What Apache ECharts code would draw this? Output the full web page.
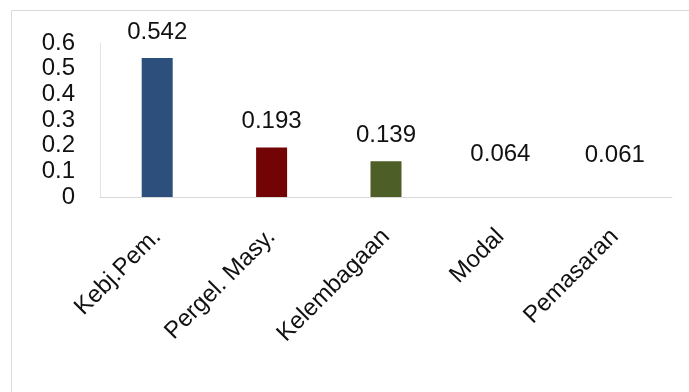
<!DOCTYPE html>
<html>
<head>
<meta charset="utf-8">
<script src="https://cdn.jsdelivr.net/npm/echarts@6/dist/echarts.min.js"></script>
<style>
  html, body { margin: 0; padding: 0; background: #ffffff; }
  #chart { width: 689px; height: 392px; }
</style>
</head>
<body>
<div id="chart"></div>
<script>
// Factor weights
const categories = ['Kebj.Pem.', 'Pergel. Masy.', 'Kelembagaan', 'Modal', 'Pemasaran'];
const values = [0.542, 0.193, 0.139, 0.064, 0.061];
const barColors = ['#2c4f7c', '#730405', '#4d5f26', '#ffffff', '#ffffff'];
const yTicks = [0, 0.1, 0.2, 0.3, 0.4, 0.5, 0.6];

const FONT = '"Liberation Sans", Arial, sans-serif';

const chart = echarts.init(document.getElementById('chart'), null, { renderer: 'canvas' });

chart.setOption({
  backgroundColor: '#ffffff',
  animation: false,
  graphic: [
    // frame edges (top and left)
    { type: 'line', shape: { x1: 11.5, y1: 10.5, x2: 689, y2: 10.5 }, style: { stroke: '#d9d9d9', lineWidth: 1 } },
    { type: 'line', shape: { x1: 11.5, y1: 10.5, x2: 11.5, y2: 392 }, style: { stroke: '#d9d9d9', lineWidth: 1 } }
  ],
  grid: { left: 100, right: 17, top: 43, bottom: 195, containLabel: false },
  xAxis: {
    type: 'category',
    data: categories,
    axisLine: { show: true, lineStyle: { color: '#d9d9d9', width: 1 } },
    axisTick: { show: false },
    axisLabel: {
      rotate: 45,
      margin: 36,
      interval: 0,
      color: '#111111',
      fontFamily: FONT,
      fontSize: 24
    }
  },
  yAxis: {
    type: 'value',
    min: yTicks[0],
    max: yTicks[yTicks.length - 1],
    interval: 0.1,
    splitLine: { show: false },
    axisLine: { show: true, lineStyle: { color: '#e3e3e3', width: 1 } },
    axisTick: { show: false },
    axisLabel: {
      margin: 25,
      color: '#111111',
      fontFamily: FONT,
      fontSize: 24,
      formatter: v => String(Math.round(v * 10) / 10)
    }
  },
  series: [{
    type: 'bar',
    data: values.map((v, i) => ({ value: v, itemStyle: { color: barColors[i] } })),
    barWidth: 31,
    label: {
      show: true,
      position: 'top',
      distance: 14,
      color: '#111111',
      fontFamily: FONT,
      fontSize: 24,
      formatter: p => p.value.toFixed(3)
    }
  }]
});
</script>
</body>
</html>
